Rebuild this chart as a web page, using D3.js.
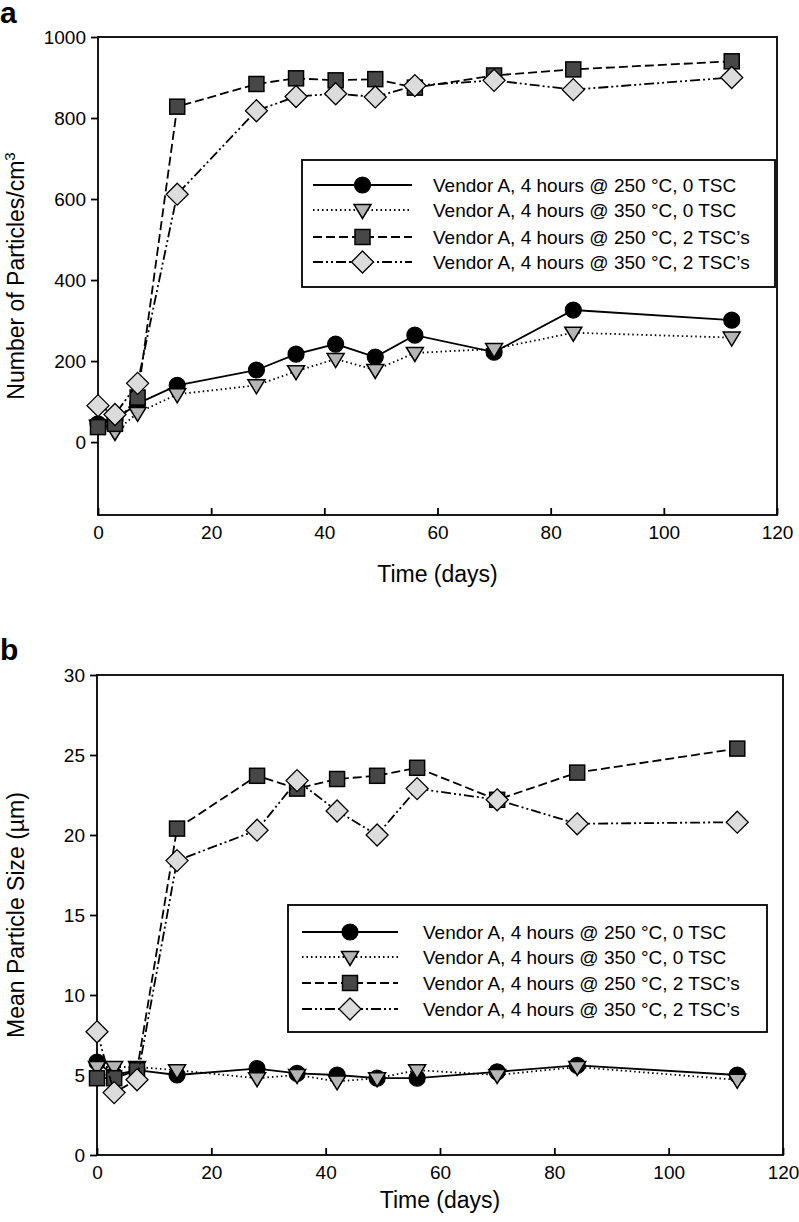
<!DOCTYPE html>
<html><head><meta charset="utf-8">
<script src="https://cdn.jsdelivr.net/npm/d3@7"></script>
<style>
body{margin:0;background:#fff;}
svg{display:block;font-family:"Liberation Sans",Arial,sans-serif;}
</style></head>
<body>
<svg id="chart" width="799" height="1222"></svg>
<script>
const days = [0, 3, 7, 14, 28, 35, 42, 49, 56, 70, 84, 112];
const seriesLabels = [
  "Vendor A, 4 hours @ 250 °C, 0 TSC",
  "Vendor A, 4 hours @ 350 °C, 0 TSC",
  "Vendor A, 4 hours @ 250 °C, 2 TSC\u2019s",
  "Vendor A, 4 hours @ 350 °C, 2 TSC\u2019s"
];
// Panel a: number of particles / cm3
const countA250_0 = [45, 55, 95, 140, 178, 217, 242, 210, 264, 222, 326, 301];
const countA350_0 = [40, 25, 72, 118, 140, 175, 205, 178, 220, 230, 270, 258];
const countA250_2 = [37, 45, 110, 828, 884, 898, 893, 896, 875, 905, 920, 940];
const countA350_2 = [90, 68, 145, 612, 818, 853, 860, 852, 880, 893, 870, 900];
// Panel b: mean particle size (um)
const sizeA250_0 = [5.8, 5.0, 5.3, 5.0, 5.4, 5.1, 5.0, 4.8, 4.8, 5.2, 5.6, 5.0];
const sizeA350_0 = [5.5, 5.5, 5.5, 5.3, 4.8, 5.0, 4.6, 4.8, 5.3, 5.0, 5.5, 4.7];
const sizeA250_2 = [4.8, 4.8, 5.3, 20.4, 23.7, 22.9, 23.5, 23.7, 24.2, 22.2, 23.9, 25.4];
const sizeA350_2 = [7.7, 3.9, 4.7, 18.4, 20.3, 23.4, 21.5, 20.0, 22.9, 22.2, 20.7, 20.8];

const xTicks = [0, 20, 40, 60, 80, 100, 120];
const yTicksA = [0, 200, 400, 600, 800, 1000];
const yTicksB = [0, 5, 10, 15, 20, 25, 30];

const svg = d3.select("#chart");
const FONT = "\"Liberation Sans\",Arial,sans-serif";

const styles = [
  {dash: null, marker: "circle", fill: "#000"},
  {dash: "1.5,3", marker: "tri", fill: "#b5b5b5"},
  {dash: "9,4", marker: "square", fill: "#474747"},
  {dash: "10,3,2,3,2,3", marker: "diamond", fill: "#dcdcdc"}
];

function drawMarker(g, type, x, y, fill) {
  if (type === "circle") {
    g.append("circle").attr("cx", x).attr("cy", y).attr("r", 8)
      .attr("fill", fill).attr("stroke", "#000").attr("stroke-width", 1.2);
  } else if (type === "tri") {
    const s = 8.5;
    g.append("path").attr("d", `M${x - s},${y - s * 0.65}L${x + s},${y - s * 0.65}L${x},${y + s * 1.0}Z`)
      .attr("fill", fill).attr("stroke", "#000").attr("stroke-width", 1.5);
  } else if (type === "square") {
    const s = 7.5;
    g.append("rect").attr("x", x - s).attr("y", y - s).attr("width", 2 * s).attr("height", 2 * s)
      .attr("fill", fill).attr("stroke", "#000").attr("stroke-width", 1.5);
  } else {
    const s = 11;
    g.append("path").attr("d", `M${x},${y - s}L${x + s},${y}L${x},${y + s}L${x - s},${y}Z`)
      .attr("fill", fill).attr("stroke", "#000").attr("stroke-width", 1.3);
  }
}

function panel(opts) {
  const {L, R, T, B, yDomain, yTicks, data, letter, letterY, yTitle, legend, xTitleGap} = opts;
  const x = d3.scaleLinear().domain([0, 120]).range([L, R]);
  const y = d3.scaleLinear().domain(yDomain).range([B, T]);
  const g = svg.append("g");

  g.append("rect").attr("x", L).attr("y", T).attr("width", R - L).attr("height", B - T)
    .attr("fill", "none").attr("stroke", "#000").attr("stroke-width", 1.8);

  const ya = g.append("g").attr("transform", `translate(${L},0)`)
    .call(d3.axisLeft(y).tickValues(yTicks).tickSize(7).tickPadding(5).tickFormat(d3.format("d")));
  ya.select(".domain").remove();
  ya.selectAll("line").attr("stroke-width", 1.8);
  ya.selectAll("text").attr("font-size", 19).attr("font-family", FONT).attr("fill", "#000");

  const xa = g.append("g").attr("transform", `translate(0,${B})`)
    .call(d3.axisBottom(x).tickValues(xTicks).tickSize(-7).tickPadding(11).tickFormat(d3.format("d")));
  xa.select(".domain").remove();
  xa.selectAll("line").attr("stroke-width", 1.8);
  xa.selectAll("text").attr("font-size", 19).attr("font-family", FONT).attr("fill", "#000");

  g.append("text").attr("x", (L + R) / 2).attr("y", B + xTitleGap).attr("text-anchor", "middle")
    .attr("font-size", 23).attr("font-family", FONT).text("Time (days)");

  const yt = g.append("text").attr("transform", `translate(24,${(T + B) / 2}) rotate(-90)`)
    .attr("text-anchor", "middle").attr("font-size", 23).attr("font-family", FONT);
  yTitle(yt);

  g.append("text").attr("x", 0).attr("y", letterY).attr("font-size", 30).attr("font-weight", "bold")
    .attr("font-family", FONT).text(letter);

  const line = d3.line().x((d, i) => x(days[i])).y(d => y(d));
  data.forEach((vals, si) => {
    const st = styles[si];
    const sg = g.append("g");
    sg.append("path").attr("d", line(vals)).attr("fill", "none").attr("stroke", "#000")
      .attr("stroke-width", 1.8).attr("stroke-dasharray", st.dash);
    vals.forEach((v, i) => drawMarker(sg, st.marker, x(days[i]), y(v), st.fill));
  });

  const lg = g.append("g");
  lg.append("rect").attr("x", legend.x0).attr("y", legend.y0).attr("width", legend.x1 - legend.x0)
    .attr("height", legend.y1 - legend.y0).attr("fill", "#fff").attr("stroke", "#000").attr("stroke-width", 1.8);
  seriesLabels.forEach((lab, i) => {
    const ry = legend.rowY[i];
    const st = styles[i];
    lg.append("line").attr("x1", legend.lx0).attr("x2", legend.lx1).attr("y1", ry).attr("y2", ry)
      .attr("stroke", "#000").attr("stroke-width", 1.8).attr("stroke-dasharray", st.dash);
    drawMarker(lg, st.marker, (legend.lx0 + legend.lx1) / 2, ry, st.fill);
    lg.append("text").attr("x", legend.tx).attr("y", ry + 7).attr("font-size", 19)
      .attr("font-family", FONT).text(lab);
  });
}

panel({
  L: 98, R: 777, T: 37, B: 515, yDomain: [-180, 1000], yTicks: yTicksA,
  data: [countA250_0, countA350_0, countA250_2, countA350_2],
  letter: "a", letterY: 23, xTitleGap: 67,
  yTitle: t => { t.append("tspan").text("Number of Particles/cm"); t.append("tspan").attr("dy", -9).attr("font-size", 15).text("3"); },
  legend: {x0: 302, x1: 775, y0: 160, y1: 287, rowY: [185, 210, 237, 262], lx0: 313, lx1: 412, tx: 433}
});

panel({
  L: 97, R: 783, T: 675, B: 1155, yDomain: [0, 30], yTicks: yTicksB,
  data: [sizeA250_0, sizeA350_0, sizeA250_2, sizeA350_2],
  letter: "b", letterY: 660, xTitleGap: 53,
  yTitle: t => t.text("Mean Particle Size (\u00b5m)"),
  legend: {x0: 288, x1: 767, y0: 905, y1: 1032, rowY: [932, 957, 983, 1009], lx0: 302, lx1: 398, tx: 423}
});
</script>
</body></html>
